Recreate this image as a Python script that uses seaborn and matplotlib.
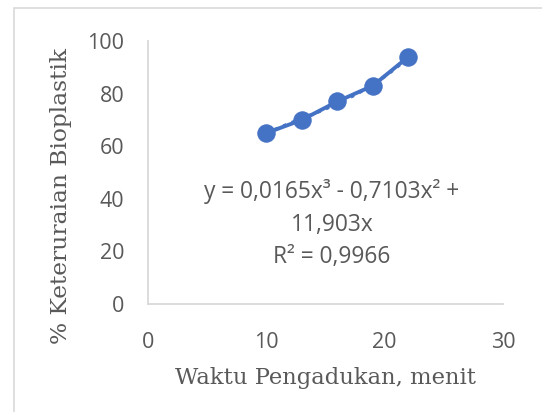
import matplotlib
matplotlib.use("Agg")
import matplotlib.pyplot as plt
import seaborn as sns
import numpy as np
import pandas as pd
from matplotlib.patches import Rectangle

# data
waktu = [10, 13, 16, 19, 22]
keteruraian = [65, 70, 77, 83, 94]
x_ticks = [0, 10, 20, 30]
y_ticks = [0, 20, 40, 60, 80, 100]
eq_text = "y = 0,0165x³ - 0,7103x² +\n11,903x\nR² = 0,9966"
x_label = "Waktu Pengadukan, menit"
y_label = "% Keteruraian Bioplastik"

sns.set_theme(style="white")
plt.rcParams['font.family'] = ['Open Sans', 'DejaVu Sans']

W, H = 542, 412
fig = plt.figure(figsize=(W / 100, H / 100), dpi=100)
# chart-area border (cropped)
fig.patches.append(Rectangle((14 / W, -0.1), 1.2, (H - 8) / H + 0.1,
                             transform=fig.transFigure, fill=False,
                             edgecolor="#d9d9d9", linewidth=1.2))
ax = fig.add_axes([148 / W, (H - 304) / H, (503 - 148) / W, (304 - 41) / H])

df = pd.DataFrame({"x": waktu, "y": keteruraian})
blue = "#4472C4"
# polynomial trendline (dotted) fitted to data
coef = np.polyfit(df["x"], df["y"], 3)
xs = np.linspace(min(waktu), max(waktu), 100)
ax.plot(xs, np.polyval(coef, xs), linestyle=":", color=blue, linewidth=2.5, zorder=2)
sns.lineplot(data=df, x="x", y="y", ax=ax, color=blue, linewidth=2.8,
             marker="o", markersize=12.5, markeredgecolor=blue, zorder=3)

ax.set_xlim(0, 30)
ax.set_ylim(0, 100)
ax.set_xticks(x_ticks)
ax.set_yticks(y_ticks)
ax.tick_params(axis="both", length=0, labelsize=15.5, labelcolor="#595959")
ax.tick_params(axis="x", pad=20.5)
ax.tick_params(axis="y", pad=17)
for s in ["top", "right"]:
    ax.spines[s].set_visible(False)
for s in ["left", "bottom"]:
    ax.spines[s].set_color("#d9d9d9")
    ax.spines[s].set_linewidth(1.3)

ax.set_xlabel(x_label, fontsize=16.3, color="#595959", family=["DejaVu Serif"], labelpad=10)
ax.set_ylabel(y_label, fontsize=16.8, color="#595959", family=["DejaVu Serif"])
ax.yaxis.set_label_coords(-0.214, (304 - 196) / (304 - 41))

ax.text((332 - 148) / (503 - 148) * 30, (304 - 224) / (304 - 41) * 100, eq_text,
        ha="center", va="center", fontsize=16.4, color="#595959", linespacing=1.5)

fig.savefig("out.png", dpi=100)
